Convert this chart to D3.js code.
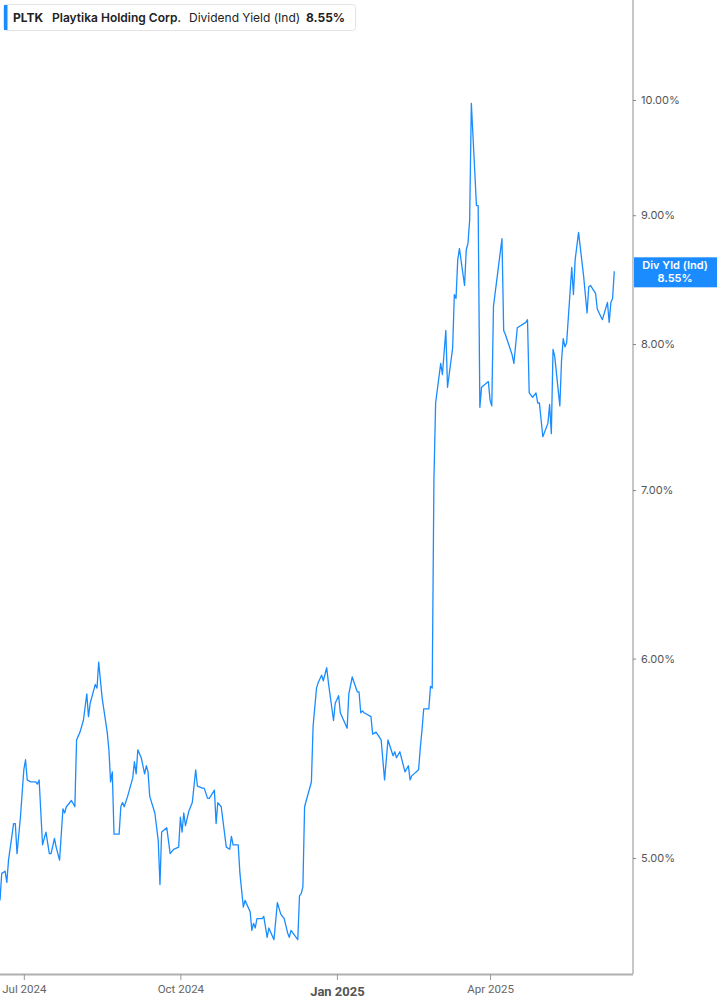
<!DOCTYPE html>
<html>
<head>
<meta charset="utf-8">
<script src="https://cdn.jsdelivr.net/npm/d3@7"></script>
<style>
  body { margin: 0; background: #fff; }
  text { font-family: Inter, Roboto, "Noto Sans", sans-serif; }
</style>
</head>
<body>
<div id="chart"></div>
<script>
// Dividend yield (%)
var dates = [
  "2024-06-17","2024-06-18","2024-06-20","2024-06-21","2024-06-22","2024-06-25","2024-06-26","2024-06-27","2024-06-29",
  "2024-07-01","2024-07-02","2024-07-03","2024-07-05","2024-07-08","2024-07-09","2024-07-10","2024-07-12","2024-07-14",
  "2024-07-16","2024-07-17","2024-07-19","2024-07-20","2024-07-22","2024-07-24","2024-07-25","2024-07-26","2024-07-29","2024-07-31",
  "2024-08-01","2024-08-03","2024-08-05","2024-08-07","2024-08-08","2024-08-09","2024-08-12","2024-08-13","2024-08-14","2024-08-16",
  "2024-08-19","2024-08-20","2024-08-21","2024-08-22","2024-08-23","2024-08-26","2024-08-27","2024-08-28","2024-08-29","2024-08-31",
  "2024-09-03","2024-09-04","2024-09-05","2024-09-06","2024-09-08","2024-09-10","2024-09-11","2024-09-12","2024-09-13","2024-09-16",
  "2024-09-18","2024-09-19","2024-09-20","2024-09-23","2024-09-25","2024-09-27","2024-09-30",
  "2024-10-01","2024-10-02","2024-10-03","2024-10-04","2024-10-06","2024-10-08","2024-10-10","2024-10-11","2024-10-14","2024-10-15",
  "2024-10-17","2024-10-18","2024-10-21","2024-10-22","2024-10-23","2024-10-25","2024-10-28","2024-10-30","2024-10-31",
  "2024-11-01","2024-11-04","2024-11-05","2024-11-07","2024-11-08","2024-11-11","2024-11-12","2024-11-13","2024-11-14","2024-11-15",
  "2024-11-18","2024-11-19","2024-11-21","2024-11-22","2024-11-25","2024-11-27","2024-11-29",
  "2024-12-01","2024-12-03","2024-12-04","2024-12-05","2024-12-09","2024-12-10","2024-12-11","2024-12-12","2024-12-13","2024-12-15",
  "2024-12-17","2024-12-18","2024-12-20","2024-12-21","2024-12-23","2024-12-24","2024-12-26","2024-12-27","2024-12-30","2024-12-31",
  "2025-01-02","2025-01-03","2025-01-07","2025-01-08","2025-01-10","2025-01-13","2025-01-14","2025-01-15","2025-01-16","2025-01-17",
  "2025-01-21","2025-01-22","2025-01-24","2025-01-27","2025-01-29","2025-01-31",
  "2025-02-03","2025-02-04","2025-02-05","2025-02-07","2025-02-10","2025-02-12","2025-02-13","2025-02-14","2025-02-18","2025-02-19",
  "2025-02-20","2025-02-21","2025-02-24","2025-02-25","2025-02-26","2025-02-27","2025-02-28",
  "2025-03-03","2025-03-04","2025-03-06","2025-03-07","2025-03-10","2025-03-11","2025-03-12","2025-03-13","2025-03-14","2025-03-17",
  "2025-03-18","2025-03-19","2025-03-20","2025-03-21","2025-03-24","2025-03-25","2025-03-26","2025-03-27","2025-03-31",
  "2025-04-01","2025-04-02","2025-04-03","2025-04-08","2025-04-09","2025-04-10","2025-04-14","2025-04-15","2025-04-17","2025-04-22",
  "2025-04-23","2025-04-24","2025-04-26","2025-04-28","2025-04-29","2025-04-30",
  "2025-05-02","2025-05-05","2025-05-06","2025-05-07","2025-05-08","2025-05-09","2025-05-12","2025-05-13","2025-05-14","2025-05-15",
  "2025-05-16","2025-05-19","2025-05-20","2025-05-21","2025-05-23","2025-05-26","2025-05-28","2025-05-29","2025-05-30",
  "2025-06-02","2025-06-03","2025-06-06","2025-06-09","2025-06-10","2025-06-11","2025-06-12","2025-06-13"
];
var yields = [
  4.81,4.93,4.94,4.89,4.99,5.16,5.16,5.02,5.19,
  5.42,5.47,5.37,5.36,5.36,5.35,5.37,5.06,5.12,
  5.02,5.02,5.09,5.05,4.99,5.23,5.21,5.24,5.27,5.24,
  5.57,5.61,5.67,5.81,5.69,5.76,5.86,5.84,5.98,5.79,
  5.61,5.52,5.36,5.41,5.11,5.11,5.24,5.26,5.24,5.29,
  5.38,5.46,5.40,5.52,5.48,5.40,5.44,5.41,5.29,5.21,
  5.08,4.88,5.12,5.14,5.02,5.04,5.05,
  5.19,5.12,5.21,5.15,5.22,5.26,5.42,5.34,5.33,5.33,
  5.28,5.28,5.32,5.16,5.26,5.24,5.05,5.04,5.10,
  5.06,5.06,4.93,4.78,4.81,4.76,4.68,4.71,4.69,4.73,
  4.73,4.74,4.65,4.69,4.64,4.80,4.75,
  4.73,4.67,4.65,4.68,4.64,4.83,4.84,4.87,5.24,5.30,
  5.36,5.64,5.84,5.87,5.91,5.88,5.95,5.87,5.67,5.76,
  5.80,5.71,5.63,5.81,5.90,5.82,5.82,5.71,5.72,5.71,
  5.69,5.60,5.61,5.57,5.37,5.57,
  5.49,5.51,5.48,5.51,5.41,5.44,5.37,5.39,5.42,5.53,
  5.62,5.73,5.73,5.85,5.84,7.06,7.58,
  7.86,7.78,8.10,7.69,7.97,8.37,8.34,8.64,8.73,8.44,
  8.72,8.77,8.96,9.97,9.08,9.08,7.55,7.69,7.73,
  7.60,7.56,8.28,8.81,8.10,8.07,7.92,7.86,8.12,8.16,
  8.18,7.65,7.62,7.65,7.58,7.58,
  7.35,7.44,7.57,7.37,7.96,7.91,7.56,7.88,8.04,7.98,
  8.01,8.58,8.37,8.64,8.86,8.51,8.23,8.43,8.44,
  8.38,8.26,8.18,8.31,8.16,8.31,8.34,8.55
];
var yTicks = [5, 6, 7, 8, 9, 10];
var xTicks = ["2024-07-01", "2024-10-01", "2025-01-01", "2025-04-01"];
var xTickLabels = ["Jul 2024", "Oct 2024", "Jan 2025", "Apr 2025"];
var ticker = "PLTK", company = "Playtika Holding Corp.", metric = "Dividend Yield (Ind)";

var parse = d3.utcParse("%Y-%m-%d");
var data = dates.map(function(d, i) { return {date: parse(d), value: yields[i]}; });
var last = data[data.length - 1];

var W = 717, H = 1005;
var plotW = 633, plotH = 974;
var blue = "#1a8cff";

var svg = d3.select("#chart")
  .append("svg")
    .attr("width", W)
    .attr("height", H);

// scales: calendar time on x, log on y
var x = d3.scaleUtc()
    .domain([parse("2024-06-17"), parse("2025-06-24")])
    .range([0, plotW]);
var y = d3.scaleLog()
    .domain([5, 10])
    .range([858, 100]);

svg.append("clipPath").attr("id", "plot")
  .append("rect").attr("width", plotW).attr("height", plotH);

// the line
svg.append("path")
    .datum(data)
    .attr("clip-path", "url(#plot)")
    .attr("fill", "none")
    .attr("stroke", blue)
    .attr("stroke-width", 1.3)
    .attr("stroke-linejoin", "round")
    .attr("d", d3.line()
      .x(function(d) { return x(d.date); })
      .y(function(d) { return y(d.value); }));

// right axis
var yAxis = svg.append("g")
    .attr("transform", "translate(" + plotW + ",0)")
    .call(d3.axisRight(y)
      .tickValues(yTicks)
      .tickSize(3)
      .tickPadding(5)
      .tickFormat(function(d) { return d3.format(".2f")(d) + "%"; }));
yAxis.select(".domain").attr("d", "M0,0V" + plotH).attr("stroke", "#a0a0a0").attr("stroke-width", 1.2);
yAxis.selectAll(".tick line").attr("stroke", "#888");
yAxis.selectAll(".tick text")
    .attr("fill", "#555")
    .style("font-size", "11px");

// bottom axis
var xAxis = svg.append("g")
    .attr("transform", "translate(0," + plotH + ")")
    .call(d3.axisBottom(x)
      .tickValues(xTicks.map(parse))
      .tickSize(6)
      .tickFormat(function(d, i) { return xTickLabels[i]; }));
xAxis.select(".domain").attr("d", "M0,0.5H" + plotW).attr("stroke", "#b0b0b0").attr("stroke-width", 2);
xAxis.selectAll(".tick line").attr("stroke", "#999");
xAxis.selectAll(".tick text")
    .attr("fill", "#666")
    .attr("dy", null)
    .attr("y", 19)
    .style("font-size", "11.5px")
    .style("font-family", "Roboto, sans-serif");
xAxis.selectAll(".tick text")
    .filter(function(d, i) { return i === 2; })
    .attr("y", 22)
    .attr("fill", "#555")
    .style("font-weight", "bold")
    .style("font-size", "13px");

// last value tag on the axis
var tag = svg.append("g");
tag.append("rect")
    .attr("x", plotW + 1)
    .attr("y", y(last.value) - 14)
    .attr("width", W - plotW - 1)
    .attr("height", 30)
    .attr("fill", blue);
tag.append("text")
    .attr("x", 675)
    .attr("y", y(last.value) - 2)
    .attr("text-anchor", "middle")
    .attr("fill", "#fff")
    .style("font-size", "11px")
    .style("font-weight", "600")
    .text("Div Yld (Ind)");
tag.append("text")
    .attr("x", 675)
    .attr("y", y(last.value) + 11)
    .attr("text-anchor", "middle")
    .attr("fill", "#fff")
    .style("font-size", "11px")
    .style("font-weight", "600")
    .text(d3.format(".2f")(last.value) + "%");

// legend box
var legend = svg.append("g");
legend.append("rect")
    .attr("x", 3.5).attr("y", 4.5)
    .attr("width", 352).attr("height", 26)
    .attr("rx", 3)
    .attr("fill", "#fff")
    .attr("stroke", "#e4e4e4");
legend.append("rect")
    .attr("x", 4).attr("y", 5)
    .attr("width", 3.5).attr("height", 25)
    .attr("fill", blue);
var legendItems = [
  {t: ticker, x: 13, w: "bold"},
  {t: company, x: 52, w: "600"},
  {t: metric, x: 189, w: "normal"},
  {t: d3.format(".2f")(last.value) + "%", x: 306, w: "bold"}
];
legend.selectAll("text.item")
    .data(legendItems)
    .enter()
    .append("text")
      .attr("class", "item")
      .attr("x", function(d) { return d.x; })
      .attr("y", 22)
      .attr("fill", "#222")
      .style("font-size", "12px")
      .style("font-weight", function(d) { return d.w; })
      .text(function(d) { return d.t; });
</script>
</body>
</html>
